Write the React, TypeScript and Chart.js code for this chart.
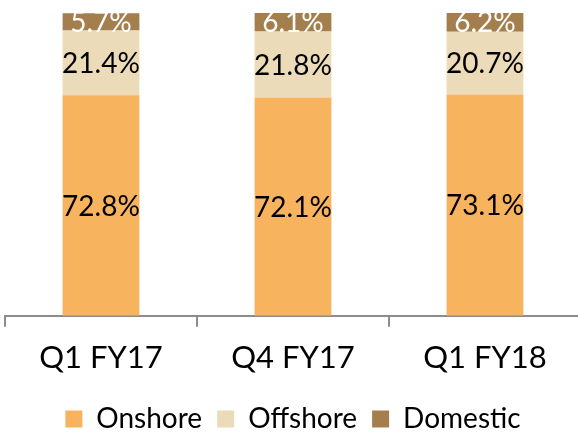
import React, { useEffect, useRef } from "react";
import { Chart, registerables } from "chart.js";

Chart.register(...registerables);

const categories = ["Q1 FY17", "Q4 FY17", "Q1 FY18"];
const onshore = [72.8, 72.1, 73.1];
const offshore = [21.4, 21.8, 20.7];
const domestic = [5.7, 6.1, 6.2];

const FONT = "Lato, 'Open Sans', sans-serif";

const labelPlugin = {
  id: "barLabels",
  afterDatasetsDraw(chart: any) {
    const ctx = chart.ctx;
    const area = chart.chartArea;
    ctx.save();
    ctx.beginPath();
    ctx.rect(area.left, area.top, area.right - area.left, area.bottom - area.top);
    ctx.clip();
    ctx.font = `28px ${FONT}`;
    ctx.textAlign = "center";
    ctx.textBaseline = "middle";
    chart.data.datasets.forEach((ds: any, di: number) => {
      const meta = chart.getDatasetMeta(di);
      meta.data.forEach((bar: any, i: number) => {
        const v = ds.data[i];
        const cy = (bar.y + bar.base) / 2;
        ctx.fillStyle = ds.labelColor;
        ctx.fillText(v.toFixed(1) + "%", bar.x, cy + 1);
      });
    });
    ctx.restore();
  },
};

export default function App() {
  const ref = useRef<HTMLCanvasElement | null>(null);
  useEffect(() => {
    if (!ref.current) return;
    const chart = new Chart(ref.current, {
      type: "bar",
      data: {
        labels: categories,
        datasets: [
          { label: "Onshore", data: onshore, backgroundColor: "#F7B35E", labelColor: "#000000" } as any,
          { label: "Offshore", data: offshore, backgroundColor: "#EBDBB8", labelColor: "#000000" } as any,
          { label: "Domestic", data: domestic, backgroundColor: "#A57E4D", labelColor: "#FFFFFF" } as any,
        ],
      },
      options: {
        responsive: false,
        animation: false,
        events: [],
        layout: { padding: { left: 5, right: 3, top: 13, bottom: -11 } },
        datasets: { bar: { categoryPercentage: 1, barPercentage: 0.4 } },
        scales: {
          x: {
            stacked: true,
            offset: true,
            grid: {
              offset: true,
              drawOnChartArea: false,
              drawTicks: true,
              tickLength: 11,
              color: "#8C8C8C",
              lineWidth: 2,
            },
            border: { display: true, color: "#8C8C8C", width: 2 },
            ticks: { color: "#000000", font: { family: FONT, size: 31 }, padding: 13 },
          },
          y: { stacked: true, display: false, min: 0, max: 100 },
        },
        plugins: {
          tooltip: { enabled: false },
          legend: {
            display: true,
            position: "bottom",
            labels: {
              color: "#000000",
              font: { family: FONT, size: 28 },
              boxWidth: 17,
              boxHeight: 17,
              padding: 15,
            },
          },
        },
      },
      plugins: [labelPlugin],
    });
    return () => chart.destroy();
  }, []);
  return (
    <div style={{ position: "fixed", left: 0, top: 0, width: 578, height: 432, overflow: "hidden", background: "#fff" }}>
      <canvas ref={ref} width={584} height={432} style={{ width: 584, height: 432, display: "block" }} />
    </div>
  );
}
